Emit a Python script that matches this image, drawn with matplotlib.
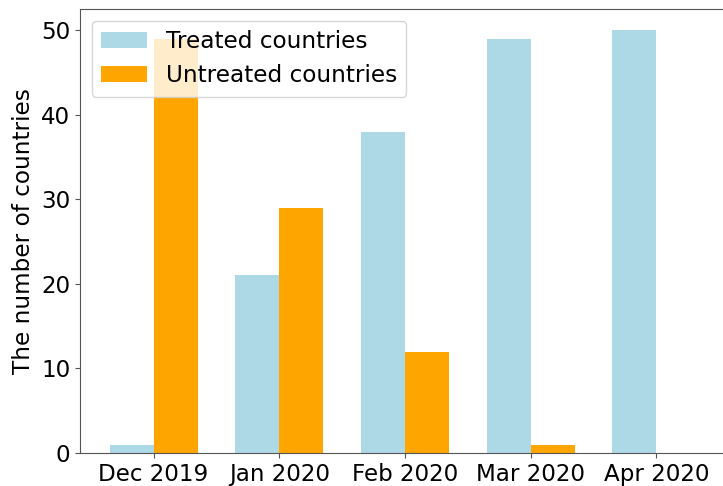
import matplotlib
matplotlib.use("Agg")
import matplotlib.pyplot as plt
import numpy as np

months = ["Dec 2019", "Jan 2020", "Feb 2020", "Mar 2020", "Apr 2020"]
treated = [1, 21, 38, 49, 50]
untreated = [49, 29, 12, 1, 0]

fig = plt.figure(figsize=(7.23, 4.86), dpi=100)
ax = fig.add_axes([80/723, 33/486, 650/723, 444/486])
x = np.arange(len(months))
w = 0.35
ax.bar(x - w/2, treated, w, color="lightblue", label="Treated countries")
ax.bar(x + w/2, untreated, w, color="orange", label="Untreated countries")
ax.set_xticks(x)
ax.set_xticklabels(months, fontsize=16.6)
ax.tick_params(axis="y", labelsize=16.6)
ax.tick_params(color="#555555")
for s in ax.spines.values():
    s.set_color("#555555")
ax.set_ylabel("The number of countries", fontsize=16.7)
ax.legend(loc="upper left", fontsize=16.7)
fig.savefig("out.png", dpi=100)
